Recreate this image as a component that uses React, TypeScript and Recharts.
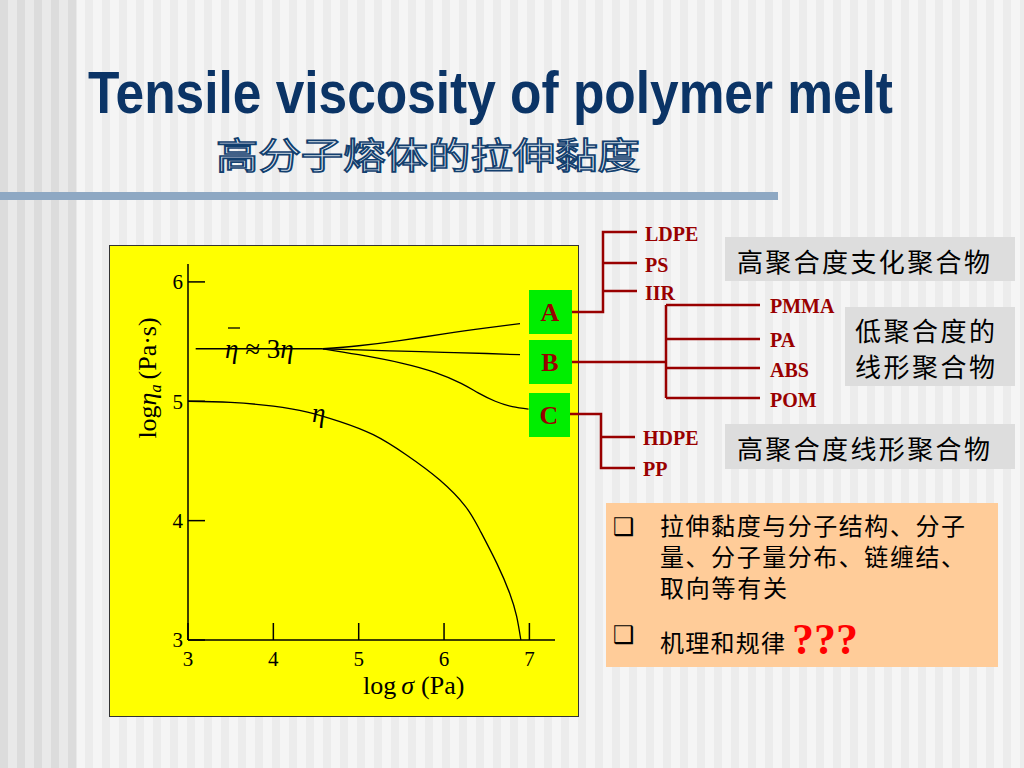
import { LineChart, Line, XAxis, YAxis } from "recharts";

// axis ticks
const xTicks = [3, 4, 5, 6, 7];
const yTicks = [3, 4, 5, 6];

// shear viscosity curve (eta)
const etaX = [3.0, 3.5, 4.0, 4.4, 4.78, 5.17, 5.56, 5.95, 6.25, 6.42, 6.62, 6.77, 6.85, 6.9];
const etaY = [5.0, 4.99, 4.96, 4.91, 4.83, 4.72, 4.55, 4.34, 4.12, 3.92, 3.64, 3.39, 3.2, 3.0];

// Trouton plateau (eta_bar ~ 3 eta)
const plateauX = [3.09, 4.58];
const plateauY = [5.44, 5.44];

// branch A rises, B flat, C falls
const aX = [4.58, 5.0, 5.5, 6.0, 6.5, 6.89];
const aY = [5.44, 5.465, 5.51, 5.565, 5.615, 5.65];
const bX = [4.58, 5.0, 5.5, 6.0, 6.5, 6.89];
const bY = [5.44, 5.43, 5.42, 5.41, 5.4, 5.39];
const cX = [4.58, 5.0, 5.5, 5.9, 6.2, 6.4, 6.6, 6.8, 6.99];
const cY = [5.44, 5.39, 5.32, 5.24, 5.15, 5.07, 5.0, 4.955, 4.935];

const groupA = ["LDPE", "PS", "IIR"];
const groupB = ["PMMA", "PA", "ABS", "POM"];
const groupC = ["HDPE", "PP"];

const zip = (xs: number[], ys: number[]) => xs.map((x, i) => ({ x, y: ys[i] }));

const RED = "#990000";
const SERIF = "'Liberation Serif', 'Times New Roman', serif";
const CJK = "'Noto Sans CJK SC', sans-serif";

function ViscosityChart() {
  const tickStyle = { fontFamily: SERIF, fontSize: 21, fill: "#000" };
  return (
    <LineChart width={468} height={470} margin={{ top: 18, right: 23, bottom: 46, left: 48 }}>
      <XAxis
        type="number"
        dataKey="x"
        domain={[3, 7.3]}
        ticks={xTicks}
        allowDataOverflow
        height={30}
        tickSize={-17}
        tickMargin={28}
        stroke="#000"
        strokeWidth={1.5}
        tick={tickStyle}
      />
      <YAxis
        type="number"
        dataKey="y"
        domain={[3, 6.15]}
        ticks={yTicks}
        allowDataOverflow
        width={30}
        tickSize={-17}
        tickMargin={22}
        stroke="#000"
        strokeWidth={1.5}
        tick={tickStyle}
      />
      <Line data={zip(etaX, etaY)} dataKey="y" type="natural" stroke="#000" strokeWidth={1.3} dot={false} isAnimationActive={false} />
      <Line data={zip(plateauX, plateauY)} dataKey="y" type="linear" stroke="#000" strokeWidth={1.5} dot={false} isAnimationActive={false} />
      <Line data={zip(aX, aY)} dataKey="y" type="natural" stroke="#000" strokeWidth={1.3} dot={false} isAnimationActive={false} />
      <Line data={zip(bX, bY)} dataKey="y" type="natural" stroke="#000" strokeWidth={1.3} dot={false} isAnimationActive={false} />
      <Line data={zip(cX, cY)} dataKey="y" type="natural" stroke="#000" strokeWidth={1.3} dot={false} isAnimationActive={false} />
    </LineChart>
  );
}

export default function App() {
  return (
    <div
      style={{
        position: "absolute",
        left: 0,
        top: 0,
        width: 1024,
        height: 768,
        overflow: "hidden",
        background: "repeating-linear-gradient(90deg, #ececec 0px, #ececec 8.5px, #f5f5f5 8.5px, #f5f5f5 17px)",
      }}
    >
      {/* darker stripes on the left edge */}
      <div
        style={{
          position: "absolute",
          left: 0,
          top: 0,
          width: 77,
          height: 768,
          background: "repeating-linear-gradient(90deg, #dcdcdc 0px, #dcdcdc 8.5px, #e9e9e9 8.5px, #e9e9e9 17px)",
        }}
      />
      <div style={{ position: "absolute", left: 0, top: 192, width: 778, height: 8, background: "#8ea8c3" }} />

      <svg width={1024} height={200} style={{ position: "absolute", left: 0, top: 0 }}>
        <text
          x={88}
          y={113}
          textLength={805}
          lengthAdjust="spacingAndGlyphs"
          fontFamily="'Liberation Sans', Arial, sans-serif"
          fontWeight="bold"
          fontSize={59}
          fill="#0b3466"
        >
          Tensile viscosity of polymer melt
        </text>
        <text
          x={216}
          y={169}
          textLength={424}
          lengthAdjust="spacingAndGlyphs"
          fontFamily={CJK}
          fontSize={36}
          fill="#e4ecf4"
          stroke="#123f6e"
          strokeWidth={1.7}
        >
          高分子熔体的拉伸黏度
        </text>
      </svg>

      {/* yellow chart panel */}
      <div
        style={{
          position: "absolute",
          left: 110,
          top: 246,
          width: 468,
          height: 470,
          background: "#ffff00",
          outline: "1.5px solid #333",
        }}
      >
        <ViscosityChart />
      </div>

      {/* annotations, boxes and tree diagram */}
      <svg width={1024} height={768} style={{ position: "absolute", left: 0, top: 0, pointerEvents: "none" }}>
        <g fontFamily={SERIF} fontSize={27} fill="#000">
          <line x1={228} y1={328} x2={240} y2={328} stroke="#000" strokeWidth={1.3} />
          <text x={225} y={358}>
            <tspan fontStyle="italic">η</tspan>
            <tspan> ≈ 3</tspan>
            <tspan fontStyle="italic">η</tspan>
          </text>
          <text x={312} y={422} fontStyle="italic">η</text>
        </g>
        <text x={363} y={694} fontFamily={SERIF} fontSize={26} fill="#000">
          log<tspan fontStyle="italic" dx={5}>σ</tspan>
          <tspan dx={7}>(Pa)</tspan>
        </text>
        <text
          transform="translate(156, 378) rotate(-90)"
          textAnchor="middle"
          fontFamily={SERIF}
          fontSize={26}
          fill="#000"
        >
          log<tspan fontStyle="italic">η</tspan>
          <tspan fontStyle="italic" fontSize={16} dy={5}>a</tspan>
          <tspan dy={-5} dx={5}>(Pa·s)</tspan>
        </text>

        <g stroke={RED} strokeWidth={2.5} fill="none">
          <path d="M572,312 H603 V232 H637 M603,263 H637 M603,291 H637" />
          <path d="M572,362 H666 M666,305 V398 M666,305 H760 M666,339 H760 M666,368 H760 M666,398 H760" />
          <path d="M570,414 H601 V468 H635 M601,437 H635" />
        </g>

        <rect x={529} y={290} width={43} height={44} fill="#00ee00" />
        <rect x={529} y={340} width={43} height={44} fill="#00ee00" />
        <rect x={529} y={393} width={41} height={44} fill="#00ee00" />
        <g fontFamily={SERIF} fontWeight="bold" fontSize={26} fill={RED} textAnchor="middle">
          <text x={550} y={321}>A</text>
          <text x={550} y={371}>B</text>
          <text x={549} y={424}>C</text>
        </g>

        <g fontFamily={SERIF} fontWeight="bold" fontSize={20} fill={RED}>
          {groupA.map((t, i) => (
            <text key={t} x={645} y={[241, 272, 300][i]}>{t}</text>
          ))}
          {groupB.map((t, i) => (
            <text key={t} x={770} y={[313, 347, 377, 407][i]}>{t}</text>
          ))}
          {groupC.map((t, i) => (
            <text key={t} x={643} y={[445, 476][i]}>{t}</text>
          ))}
        </g>
      </svg>

      {/* grey category boxes */}
      <div style={{ position: "absolute", left: 725, top: 237, width: 290, height: 44, background: "#dddddd" }} />
      <div style={{ position: "absolute", left: 845, top: 307, width: 170, height: 79, background: "#dddddd" }} />
      <div style={{ position: "absolute", left: 725, top: 424, width: 290, height: 45, background: "#dddddd" }} />
      <svg width={1024} height={768} style={{ position: "absolute", left: 0, top: 0 }}>
        <g fontFamily={CJK} fontSize={26} fill="#000">
          <text x={737} y={272} textLength={253}>高聚合度支化聚合物</text>
          <text x={855} y={341} textLength={140}>低聚合度的</text>
          <text x={855} y={377} textLength={140}>线形聚合物</text>
          <text x={737} y={459} textLength={253}>高聚合度线形聚合物</text>
        </g>
      </svg>

      {/* note box */}
      <div style={{ position: "absolute", left: 606, top: 503, width: 392, height: 164, background: "#ffcc99" }} />
      <svg width={1024} height={768} style={{ position: "absolute", left: 0, top: 0 }}>
        <g fontFamily="'DejaVu Sans', sans-serif" fontSize={24} fill="#000">
          <text x={613} y={535}>❑</text>
          <text x={613} y={643}>❑</text>
        </g>
        <g fontFamily={CJK} fontSize={24} fill="#000">
          <text x={660} y={535} textLength={305}>拉伸黏度与分子结构、分子</text>
          <text x={660} y={566} textLength={305}>量、分子量分布、链缠结、</text>
          <text x={660} y={597} textLength={127}>取向等有关</text>
          <text x={660} y={652} textLength={125}>机理和规律</text>
        </g>
        <text x={792} y={654} fontFamily={SERIF} fontWeight="bold" fontSize={44} fill="#ff0000">???</text>
      </svg>
    </div>
  );
}
